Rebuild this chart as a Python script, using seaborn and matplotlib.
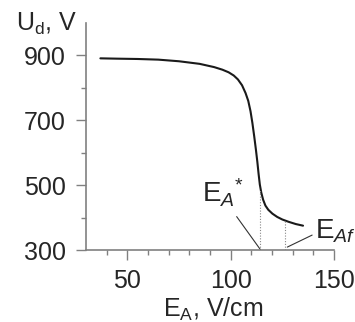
import seaborn as sns
import matplotlib.pyplot as plt
import pandas as pd

# values
ea = [37, 45, 55, 65, 75, 85, 92, 96, 99, 101.5, 103.5, 105.5, 107.2, 108.5, 109.6,
      110.5, 111.4, 112.2, 112.9, 113.5, 114.1, 114.8, 115.7, 116.8, 118.2, 120.2,
      122.5, 125, 128, 131.5, 135]
ud = [891, 890, 889, 887, 882, 874, 864, 856, 848, 838, 826, 808, 784, 760, 728,
      692, 650, 610, 572, 535, 502, 477, 455, 437, 424, 412, 402, 394, 387, 380, 375]
ea_star = 114.4
ud_star = 485
ea_f = 126.4
ud_f = 390

df = pd.DataFrame({'EA': ea, 'Ud': ud})

sns.set_style("ticks")
plt.rcParams['font.family'] = ['Liberation Sans', 'DejaVu Sans']
plt.rcParams['mathtext.fontset'] = 'custom'
plt.rcParams['mathtext.rm'] = 'Liberation Sans'
plt.rcParams['mathtext.it'] = 'Liberation Sans:italic'

fig = plt.figure(figsize=(3.55, 3.22), dpi=100)
ax = fig.add_axes([0.242, 0.2236, 0.699, 0.705])

sns.lineplot(data=df, x='EA', y='Ud', ax=ax, color='#1a1a1a', linewidth=1.5, sort=False)

# dotted markers down to the axis
ax.plot([ea_star, ea_star], [300, ud_star], ls=(0, (1, 1.5)), color='#888888', lw=0.8)
ax.plot([ea_f, ea_f], [300, ud_f], ls=(0, (1, 1.5)), color='#888888', lw=0.8)

# labels with leader lines
ax.plot([102.9, ea_star], [403, 301], color='#333333', lw=0.8)
ax.plot([139.4, 127.4], [346, 309], color='#333333', lw=0.8)
ax.text(106.5, 448, r'E$_{\mathit{A}}$$^{*}$', fontsize=20, ha='right', va='baseline')
ax.text(140.9, 337, r'E$_{\mathit{Af}}$', fontsize=20, ha='left', va='baseline')

ax.set_xlim(30, 150)
ax.set_ylim(300, 1000)
ax.set_xticks([50, 100, 150])
ax.set_xticks([40, 60, 70, 80, 90, 110, 120, 130, 140], minor=True)
ax.set_yticks([300, 500, 700, 900])
ax.set_yticks([400, 600, 800], minor=True)
ax.tick_params(axis='both', which='major', labelsize=18, length=7.5, width=1, color='#808080')
ax.tick_params(axis='both', which='minor', length=3.6, width=1, color='#808080')
ax.tick_params(axis='x', which='major', pad=6)
ax.tick_params(axis='y', which='major', pad=7)

sns.despine(ax=ax)
for s in ['left', 'bottom']:
    ax.spines[s].set_color('#808080')
    ax.spines[s].set_linewidth(1.2)

ax.set_xlabel('')
ax.set_ylabel('')
fig.text(0.045, 0.925, r'U$_\mathregular{d}$, V', fontsize=18, va='center', ha='left')
fig.text(0.6, 0.04, r'E$_\mathregular{A}$, V/cm', fontsize=18, va='center', ha='center')

plt.savefig('out.png', dpi=100)
